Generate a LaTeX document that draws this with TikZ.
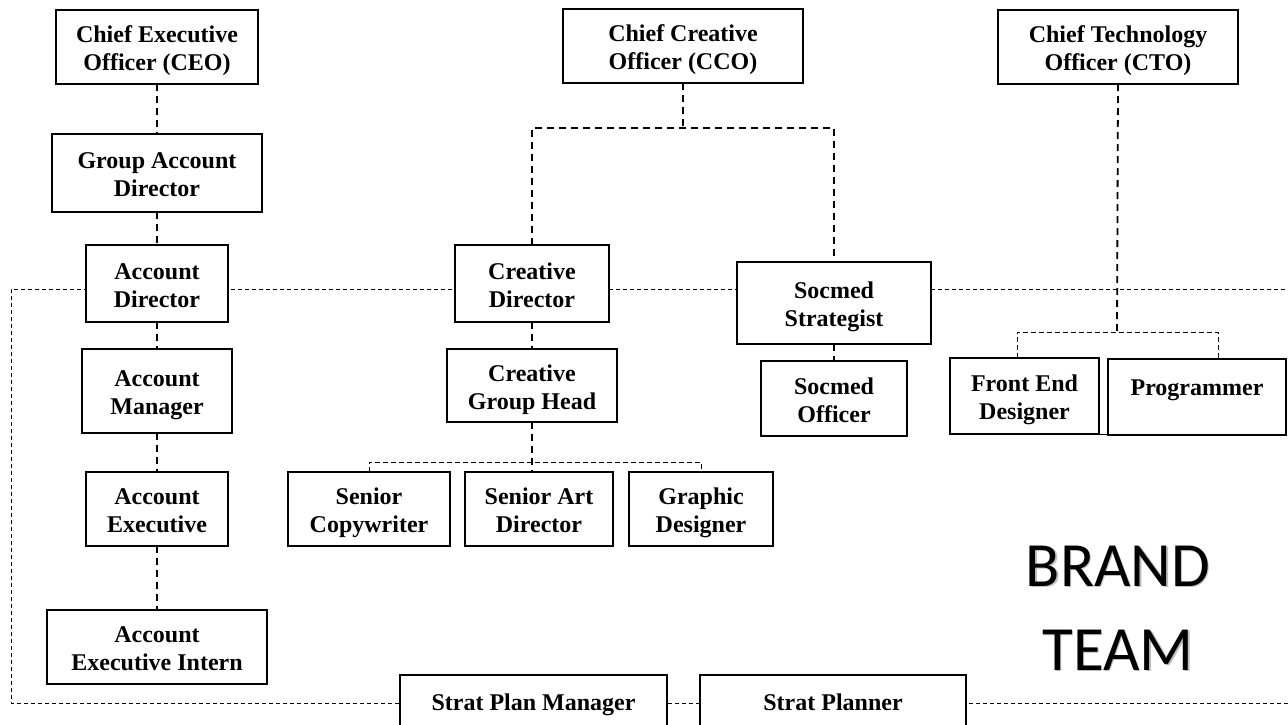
\documentclass[tikz,border=0pt]{standalone}
\usepackage{fontspec}
\setmainfont{Liberation Serif}
\newfontfamily\brandfont{Carlito}
\newcommand\boxtext[1]{\raisebox{-4pt}[\height][\depth]{\begin{tabular}{@{}c@{}}#1\end{tabular}}}
\begin{document}
\begin{tikzpicture}[x=1pt,y=-1pt,
  box/.style={draw=black, line width=1.2pt, fill=white, inner sep=0pt, outer sep=0pt,
    font=\fontsize{24}{28}\selectfont\bfseries},
  conn/.style={draw=black, line width=1.8pt, dash pattern=on 7pt off 5pt},
  longdash/.style={draw=black, line width=1pt, dash pattern=on 4pt off 3pt},
  bracket/.style={draw=black, line width=1pt, dash pattern=on 5pt off 3pt},
  brand/.style={anchor=base, font=\brandfont\fontsize{63}{84}\selectfont, inner sep=0pt}]
\newcommand\orgbox[6]{%
  \node[box, minimum width={(#4-#2)*1pt}, minimum height={(#5-#3)*1pt}] (#1) at ({(#2+#4)/2},{(#3+#5)/2}) {\boxtext{#6}};}
\fill[white] (0,0) rectangle (1288,725);
\useasboundingbox (0,0) rectangle (1288,725);
% long dashed team line
\coordinate (tl) at (11,289);
\coordinate (tr) at (1292,289);
\coordinate (bl) at (11,703);
\coordinate (br) at (1292,703);
\draw[longdash] (tr) -- (tl) -- (bl) -- (br);
% junction points
\coordinate (ccoj) at (683,128);
\coordinate (cghbar) at (532,462);
\coordinate (ctobar) at (1117,332);
\coordinate (ctoL) at (1017,332);
\coordinate (ctoR) at (1218,332);
% boxes
\orgbox{ceo}{56}{10}{258}{84}{Chief Executive\\Officer (CEO)}
\orgbox{gad}{52}{134}{262}{212}{Group Account\\Director}
\orgbox{ad}{86}{245}{228}{322}{Account\\Director}
\orgbox{am}{82}{349}{232}{433}{Account\\Manager}
\orgbox{ae}{86}{472}{228}{546}{Account\\Executive}
\orgbox{aei}{47}{610}{267}{684}{Account\\Executive Intern}
\orgbox{cco}{563}{9}{803}{83}{Chief Creative\\Officer (CCO)}
\orgbox{cd}{455}{245}{609}{322}{Creative\\Director}
\orgbox{cgh}{447}{349}{617}{422}{Creative\\Group Head}
\orgbox{sc}{288}{472}{450}{546}{Senior\\Copywriter}
\orgbox{sad}{465}{472}{613}{546}{Senior Art\\Director}
\orgbox{gd}{629}{472}{773}{546}{Graphic\\Designer}
\orgbox{ss}{737}{262}{931}{344}{Socmed\\Strategist}
\orgbox{so}{761}{361}{907}{436}{Socmed\\Officer}
\orgbox{cto}{998}{10}{1238}{84}{Chief Technology\\Officer (CTO)}
\orgbox{fed}{950}{358}{1099}{434}{Front End\\Designer}
\orgbox{prog}{1108}{359}{1286}{435}{\raisebox{11.5pt}[0pt][0pt]{Programmer}}
\orgbox{spm}{400}{675}{667}{731}{\raisebox{2pt}[0pt][0pt]{Strat Plan Manager}}
\orgbox{sp}{700}{675}{966}{731}{\raisebox{2pt}[0pt][0pt]{Strat Planner}}
% account chain
\draw[conn] (ceo.south) -- (ceo.south |- gad.north);
\draw[conn] (gad.south) -- (gad.south |- ad.north);
\draw[conn] (ad.south) -- (ad.south |- am.north);
\draw[conn] (am.south) -- (am.south |- ae.north);
\draw[conn] (ae.south) -- (ae.south |- aei.north);
% creative
\draw[conn] (cco.south) -- (ccoj);
\draw[conn] (cd.north) |- (ccoj) -| (ss.north);
\draw[conn] (cd.south) -- (cd.south |- cgh.north);
\draw[conn] (cgh.south) -- (cgh.south |- sad.north);
\draw[bracket] (sc.north) |- (cghbar) -| (gd.north);
\draw[conn] (ss.south) -- (ss.south |- so.north);
% technology
\draw[conn] (cto.south) -- (ctobar);
\draw[bracket] (ctoL |- fed.north) -- (ctoL) -- (ctoR) -- (ctoR |- prog.north);
\draw[line width=1pt] (fed.south east) -- (fed.south east -| prog.west);
% brand team label (soft shadow + text)
\node[brand, text=black!25] at (1119.5,587.5) {BRAND};
\node[brand, text=black!25] at (1119.5,671.5) {TEAM};
\node[brand] (brand) at (1118,586) {BRAND};
\node[brand] (team) at (1118,670) {TEAM};
\end{tikzpicture}
\end{document}
